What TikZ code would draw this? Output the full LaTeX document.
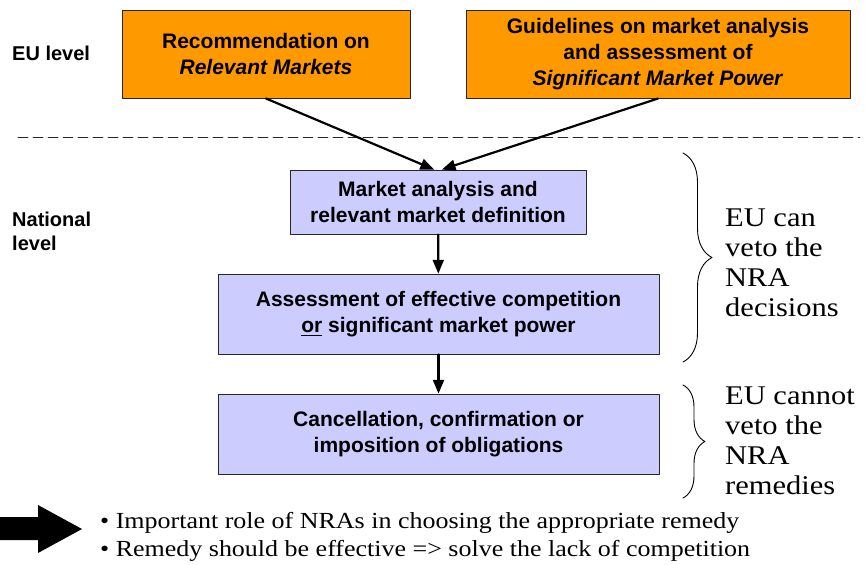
\documentclass[tikz,border=0pt]{standalone}
\usepackage{fontspec}
\usepackage{amsmath,amssymb}
\usepackage{pgf,tikz}
\usetikzlibrary{arrows,decorations.pathreplacing}
\setmainfont{Liberation Sans}
\newfontfamily\vetofont{Liberation Serif}[FakeStretch=1.13]
\definecolor{ffttqq}{rgb}{1,0.6,0}
\definecolor{ccccff}{rgb}{0.8,0.8,1}
\definecolor{qqqqqq}{rgb}{0.15,0.15,0.15}
\tikzset{
  eubox/.style={draw=qqqqqq,line width=1pt,fill=ffttqq,align=center,inner sep=0pt,
    font=\bfseries\fontsize{21}{26}\selectfont},
  nrabox/.style={draw=qqqqqq,line width=1pt,fill=ccccff,align=center,inner sep=0pt,
    font=\bfseries\fontsize{21}{26}\selectfont},
  levellabel/.style={align=left,inner sep=0pt,font=\bfseries\fontsize{20}{24}\selectfont},
  vetolabel/.style={align=left,inner sep=0pt,anchor=north west,font=\vetofont\fontsize{27}{30}\selectfont},
  vetobrace/.style={decorate,line width=0.9pt,decoration={brace,amplitude=#1}}
}
\begin{document}
\begin{tikzpicture}[line cap=round,line join=round,>=triangle 45,x=1pt,y=-1pt]
      \useasboundingbox (0,0) rectangle (865,565);
      % EU level
      \node[eubox,minimum width=288pt,minimum height=88pt] (rec) at (266,54) {Recommendation on\\\textit{Relevant Markets}};
      \node[eubox,minimum width=384pt,minimum height=88pt] (guide) at (658,54) {Guidelines on market analysis\\and assessment of\\\textit{Significant Market Power}};
      \node[levellabel,anchor=base west] (eulevel) at (12,60) {EU level};
      \draw[color=qqqqqq,line width=0.8pt,dash pattern=on 10pt off 5pt] (18,137) -- (860,137);
      % national level
      \node[nrabox,minimum width=296pt,minimum height=64pt] (analysis) at (438,202) {Market analysis and\\relevant market definition};
      \node[nrabox,minimum width=441pt,minimum height=80pt] (assess) at (438.5,314) {Assessment of effective competition\\\underline{or} significant market power};
      \node[nrabox,minimum width=441pt,minimum height=80pt] (remedy) at (438.5,434) {Cancellation, confirmation or\\imposition of obligations};
      \node[levellabel,anchor=north west] (natlevel) at (12,212) {National\\level};
      \draw[->,line width=2.2pt] (rec.south) -- ([xshift=-4pt]analysis.north);
      \draw[->,line width=2.2pt] (guide.south) -- ([xshift=4pt]analysis.north);
      \draw[->,line width=2.2pt] (analysis) -- (assess);
      \draw[->,line width=2.2pt] (assess) -- (remedy);
      % braces
      \draw[vetobrace=29pt] (683,153) -- (683,362);
      \draw[vetobrace=22pt] (683,385) -- (683,498);
      \node[vetolabel] (canveto) at (725,209) {EU can\\veto the\\NRA\\decisions};
      \node[vetolabel] (cannotveto) at (725,387) {EU cannot\\veto the\\NRA\\remedies};
      % conclusion
      \fill[color=black] (0,517) -- (38,517) -- (38,505) -- (82,529) -- (38,553) -- (38,540) -- (0,540) -- cycle;
      \node[vetolabel,font=\vetofont\fontsize{23}{28}\selectfont] (bullets) at (100,512) {\textbullet\ Important role of NRAs in choosing the appropriate remedy\\\textbullet\ Remedy should be effective => solve the lack of competition};
\end{tikzpicture}
\end{document}
